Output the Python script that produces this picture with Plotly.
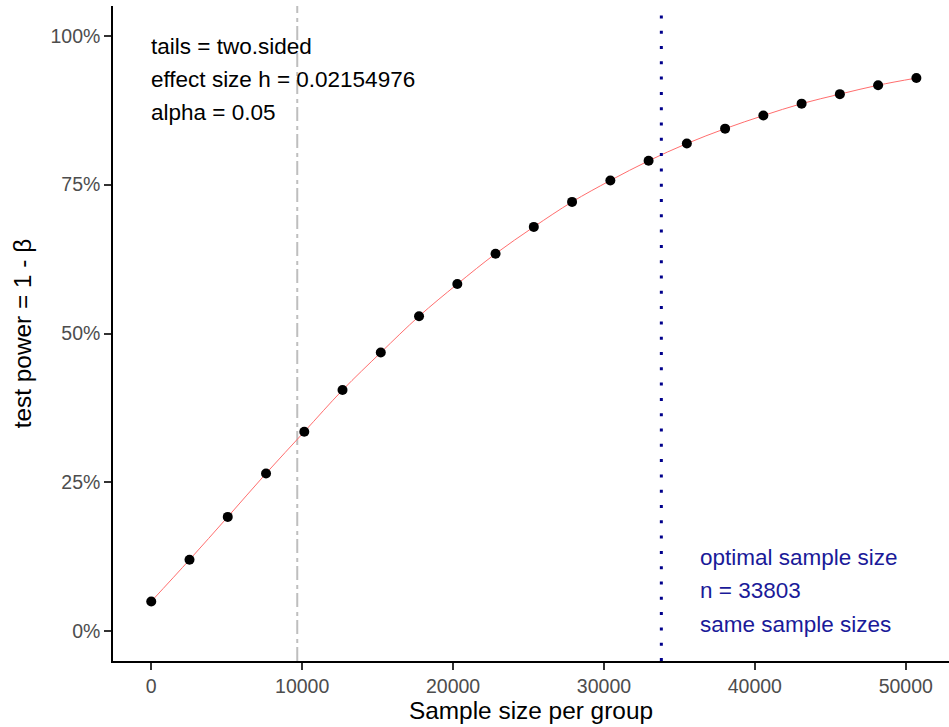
import plotly.graph_objects as go

# Data
sample_sizes = [0, 2535, 5070, 7606, 10141, 12676, 15211, 17746, 20282, 22817,
                25352, 27887, 30423, 32958, 35493, 38028, 40563, 43099, 45634,
                48169, 50704]
power = [0.050, 0.120, 0.192, 0.265, 0.335, 0.405, 0.468, 0.529, 0.583, 0.634,
         0.679, 0.721, 0.757, 0.790, 0.819, 0.844, 0.866, 0.886, 0.902, 0.917,
         0.929]
optimal_n = 33803
grey_line_x = 9675
x_ticks = [0, 10000, 20000, 30000, 40000, 50000]
y_ticks = [0, 0.25, 0.5, 0.75, 1.0]
y_tick_labels = ["0%", "25%", "50%", "75%", "100%"]
info_lines = ["tails = two.sided", "effect size h = 0.02154976", "alpha = 0.05"]
info_y = [0.982, 0.926, 0.871]
opt_lines = ["optimal sample size", "n = 33803", "same sample sizes"]
opt_y = [0.124, 0.069, 0.012]

FONT = "Liberation Sans, Arial, sans-serif"

fig = go.Figure()
fig.add_trace(go.Scatter(x=sample_sizes, y=power, mode="lines",
                         line=dict(color="rgb(255,110,110)", width=1, shape="spline"),
                         hoverinfo="skip", showlegend=False))
fig.add_trace(go.Scatter(x=sample_sizes, y=power, mode="markers",
                         marker=dict(color="black", size=10),
                         showlegend=False))

fig.add_shape(type="line", x0=grey_line_x, x1=grey_line_x, y0=0, y1=1,
              xref="x", yref="paper", layer="below",
              line=dict(color="#BEBEBE", width=2, dash="14px,4px,4px,5px"))
fig.add_shape(type="line", x0=optimal_n, x1=optimal_n, y0=0, y1=1,
              xref="x", yref="paper",
              line=dict(color="#00008B", width=3, dash="3px,12.3px"))

for t, yy in zip(info_lines, info_y):
    fig.add_annotation(x=0, y=yy, text=t, showarrow=False, xanchor="left",
                       yanchor="middle", xshift=-2,
                       font=dict(family=FONT, size=22.5, color="black"))
for t, yy in zip(opt_lines, opt_y):
    fig.add_annotation(x=36335, y=yy, text=t, showarrow=False, xanchor="left",
                       yanchor="middle", xshift=-2,
                       font=dict(family=FONT, size=22.5, color="#1A1A99"))

fig.update_layout(
    width=949, height=727,
    margin=dict(l=113, r=0, t=6, b=66),
    plot_bgcolor="white", paper_bgcolor="white",
    font=dict(family=FONT),
    xaxis=dict(range=[-2535, 52866], tickvals=x_ticks,
               ticktext=[str(v) for v in x_ticks],
               showgrid=False, zeroline=False, showline=True,
               linecolor="black", linewidth=1.5,
               ticks="outside", ticklen=7, tickcolor="#333333", tickwidth=1.5,
               tickfont=dict(family=FONT, size=19.5, color="#4D4D4D"),
               title=dict(text="Sample size per group",
                          font=dict(family=FONT, size=24.4, color="black"),
                          standoff=4)),
    yaxis=dict(range=[-0.05, 1.05], tickvals=y_ticks, ticktext=y_tick_labels,
               showgrid=False, zeroline=False, showline=True,
               linecolor="black", linewidth=1.5,
               ticks="outside", ticklen=7, tickcolor="#333333", tickwidth=1.5,
               tickfont=dict(family=FONT, size=19.5, color="#4D4D4D"),
               title=dict(text="test power = 1 - β",
                          font=dict(family=FONT, size=24.4, color="black"),
                          standoff=12)),
)

fig.write_html("out.html")
